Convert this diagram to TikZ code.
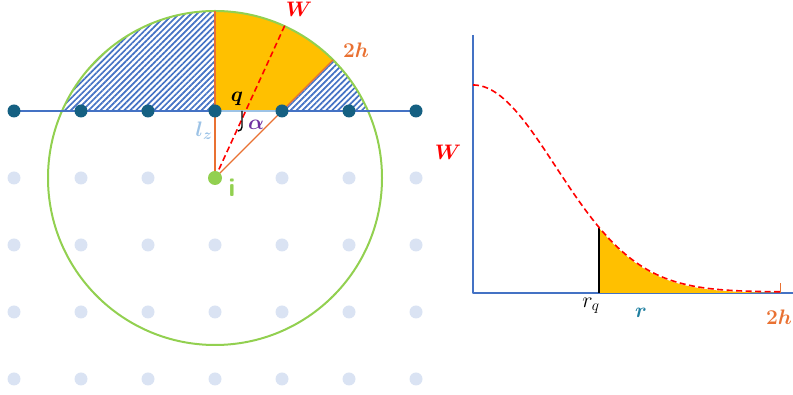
\RequirePackage{fix-cm}
\documentclass[tikz,border=0pt]{standalone}
\usepackage{amsmath,bm}
\usetikzlibrary{patterns.meta,calc}
\definecolor{axisblue}{HTML}{4472C4}
\definecolor{dotteal}{HTML}{156082}
\definecolor{dotlight}{HTML}{DAE3F3}
\definecolor{circgreen}{HTML}{92D050}
\definecolor{wyellow}{HTML}{FFC000}
\definecolor{horange}{HTML}{E97132}
\definecolor{lzblue}{HTML}{9DC3E6}
\definecolor{apurple}{HTML}{7030A0}
\definecolor{rteal}{HTML}{1F7FA0}
\tikzset{
  gridpt/.style={fill=dotlight},
  linept/.style={fill=dotteal},
  lbl/.style={inner sep=0pt,font=\fontsize{21}{23}\selectfont},
}
\begin{document}
\begin{tikzpicture}[x=1pt,y=1pt,line join=round]
	\useasboundingbox (0,0) rectangle (793,395);
	\coordinate (i) at (215,217);
	\coordinate (top) at (215,384);
	\coordinate (lz0) at (215,284);
	\coordinate (lz1) at (282,284);
	\coordinate (edge) at ($(i)+(45:167)$);
	\coordinate (wend) at (285,370);
	% grid of points
	\foreach \xx in {14,81,...,416} \foreach \yy in {16,83,150,217}
		\fill[gridpt] (\xx,\yy) circle(6.5);
	% hatched cap
	\begin{scope}
		\clip (i) circle (167);
		\fill[pattern={Lines[angle=45,distance=4.2pt,line width=1.7pt]},pattern color=axisblue] (40,284) rectangle (400,392);
	\end{scope}
	\fill[wyellow] (lz0) -- (top) arc[start angle=90,end angle=45,radius=167] -- (lz1) -- cycle;
	\draw[circgreen,line width=2] (i) circle (167);
	\draw[axisblue,line width=2] (14,284) -- (420,284);
	\draw[lzblue,line width=2] (lz0) -- (lz1);
	\draw[horange,line width=1.3] (i) -- (top);
	\draw[horange,line width=1.3] (i) -- (edge);
	\draw[red,line width=1.6,dash pattern=on 6pt off 3.5pt] (i) -- (wend);
	\draw[line width=1.4] (242,284) -- (242,268) to[out=-90,in=0] (238,264);
	\foreach \xx in {14,81,...,416}
		\fill[linept] (\xx,284) circle(6.5);
	\fill[circgreen] (i) circle(7);
	% labels
	\node[lbl,text=red] (wl) at (299,386) {$\bm{W}$};
	\node[lbl,text=horange] (hl) at (356,345) {$\mathbf{2}\bm{h}$};
	\node[lbl] (ql) at (237,296) {$\bm{q}$};
	\node[lbl,text=apurple] (al) at (256,270) {$\bm{\alpha}$};
	\node[lbl,text=lzblue] (lzl) at (204,264) {$\bm{l_z}$};
	\node[lbl,text=circgreen,font=\fontsize{26}{28}\selectfont\sffamily\bfseries] (il) at (232,207) {i};

	% kernel profile
	\coordinate (o) at (473,102);
	\draw[axisblue,line width=2] (473,360) -- (o) -- (793,102);
	\fill[wyellow] (599,102) -- plot[smooth,samples=60,domain=126:307] ({473+\x},{102+208*exp(-(\x/116.8)^2)}) -- (780,102) -- cycle;
	\draw[line width=2] (599,102) -- (599,{102+208*exp(-(126/116.8)^2)});
	\draw[red,line width=1.6,dash pattern=on 6pt off 3.5pt] plot[smooth,samples=100,domain=0:307] ({473+\x},{103+207*exp(-(\x/116.8)^2)});
	\draw[horange,line width=0.9] (780,102) -- (780,112);
	\node[lbl,text=red] (wy) at (448,243) {$\bm{W}$};
	\node[lbl,font=\fontsize{22}{24}\selectfont] (rq) at (591,89) {$r_q$};
	\node[lbl,text=rteal] (rl) at (641,82) {$\bm{r}$};
	\node[lbl,text=horange] (hr) at (779,78) {$\mathbf{2}\bm{h}$};
\end{tikzpicture}
\end{document}
